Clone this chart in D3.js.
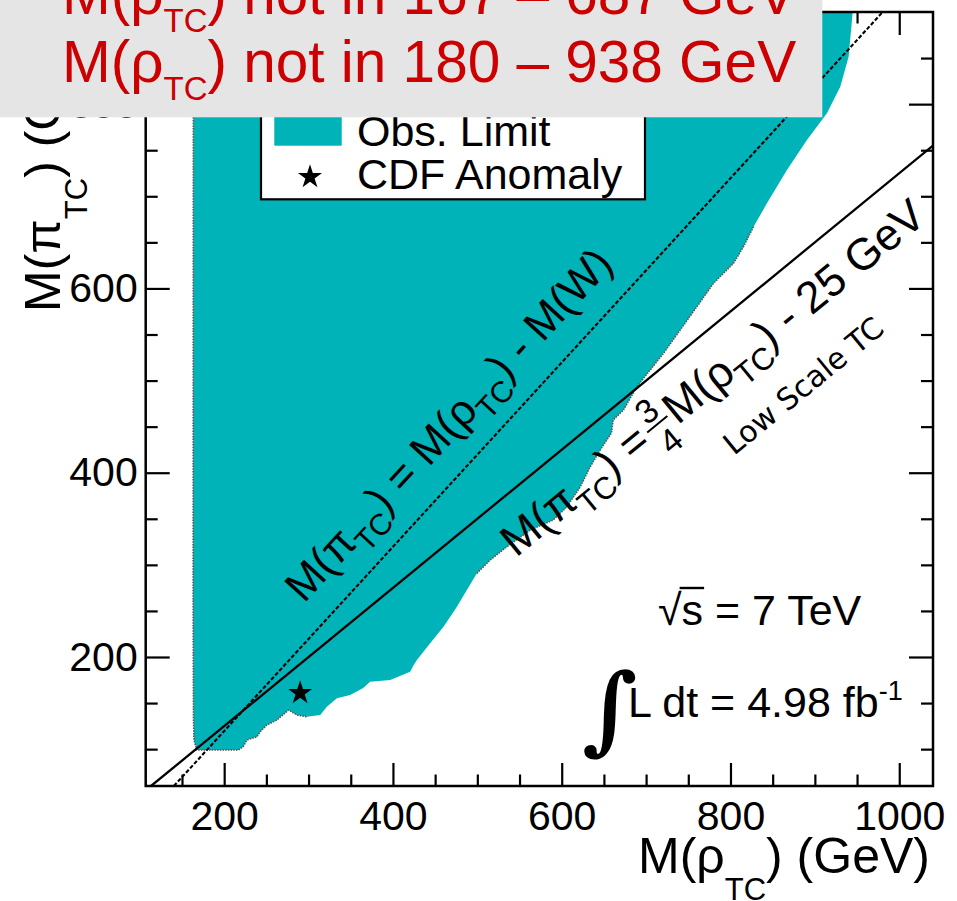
<!DOCTYPE html>
<html>
<head>
<meta charset="utf-8">
<script src="https://cdn.jsdelivr.net/npm/d3@7"></script>
<style>
  body { margin: 0; background: #fff; }
  svg { display: block; }
  text { font-family: "Liberation Sans", Arial, Helvetica, sans-serif; fill: #000; }
</style>
</head>
<body>
<svg id="chart" width="957" height="901"></svg>
<script>
// ---- axis ranges and ticks (GeV) ----
const rhoRange = [107, 1040];
const piRange = [60, 900];
const rhoMajorTicks = [200, 400, 600, 800, 1000];
const piMajorTicks = [200, 400, 600, 800];
const rhoMinorTicks = [150, 250, 300, 350, 450, 500, 550, 650, 700, 750, 850, 900, 950];
const piMinorTicks = [100, 150, 250, 300, 350, 450, 500, 550, 650, 700, 750, 850];

// ---- observed exclusion region in the (M(rho_TC), M(pi_TC)) plane ----
const obsRho = [163.5, 163.2, 163.6, 164.2, 167.6, 216.6, 222.5, 226.9, 238.8, 242.7, 250.6, 262.5, 272.3, 276.2,
  286.2, 298.0, 313.8, 321.7, 333.6, 349.3, 364.7, 373.0, 396.7, 420.4, 424.4, 428.4, 444.1, 459.9, 475.8,
  487.6, 499.5, 515.3, 535.1, 562.7, 589.9, 606.2, 621.9, 633.8, 645.6, 658.9, 661.0, 673.2, 689.1, 704.9,
  720.6, 740.4, 760.2, 779.9, 803.6, 815.4, 827.3, 843.2, 866.9, 890.6, 914.3, 930.1, 940.0, 944.7, 945.0];
const obsPi = [900, 262, 135, 110, 99, 99, 102.7, 109.9, 113.5, 118.9, 126.2, 131.6, 139.2, 142.5,
  137.1, 135.2, 137.1, 146.1, 155.2, 158.8, 166.4, 173.2, 175.0, 184.0, 191.0, 196.7, 214.9, 232.9, 254.6,
  272.7, 290.8, 305.3, 319.7, 337.8, 348.7, 363.1, 384.6, 406.5, 424.7, 443.0, 457.2, 468.1, 493.4, 511.5,
  529.6, 554.9, 580.2, 605.6, 627.3, 645.3, 667.0, 692.4, 728.5, 761.1, 790.1, 819.0, 851.5, 898.6, 900];

// ---- CDF Wjj anomaly point ----
const cdfRho = [290];
const cdfPi = [161];

// ---- reference relations: M(pi) = M(rho) - M(W) and M(pi) = 3/4 M(rho) - 25 GeV ----
const wLineRho = [140.4, 980.4];
const wLinePi = [60, 900];
const lstcLineRho = [113.3, 1040];
const lstcLinePi = [60, 755];

// ---- excluded mass windows quoted in the banner ----
const bannerLow = [167, 180];
const bannerHigh = [687, 938];

const svg = d3.select("#chart");
const W = 957, H = 901;
const margin = { left: 145.7, top: 12, right: 24, bottom: 115 };
const x = d3.scaleLinear().domain(rhoRange).range([margin.left, W - margin.right]);
const y = d3.scaleLinear().domain(piRange).range([H - margin.bottom, margin.top]);
const CYAN = "#00b3b9";

svg.append("defs").append("clipPath").attr("id", "plotArea")
  .append("rect")
  .attr("x", x.range()[0]).attr("y", y.range()[1])
  .attr("width", x.range()[1] - x.range()[0])
  .attr("height", y.range()[0] - y.range()[1]);

const plot = svg.append("g").attr("clip-path", "url(#plotArea)");

const obsPts = obsRho.map((r, i) => [r, obsPi[i]]);
const line = d3.line().x(d => x(d[0])).y(d => y(d[1]));

plot.append("path")
  .datum(obsPts)
  .attr("d", d => line(d) + "Z")
  .attr("fill", CYAN);

// dotted contour where the limit edge is drawn
const idxNotchEnd = obsRho.indexOf(298.0);
const idxRightStart = obsRho.indexOf(499.5);
const idxRightEnd = obsRho.indexOf(827.3);
[obsPts.slice(0, idxNotchEnd + 1), obsPts.slice(idxRightStart, idxRightEnd + 1)].forEach(seg => {
  plot.append("path")
    .datum(seg)
    .attr("d", line)
    .attr("fill", "none")
    .attr("stroke", "#555")
    .attr("stroke-width", 1.6)
    .attr("stroke-dasharray", "1.5 1.2");
});

plot.append("path")
  .datum(wLineRho.map((r, i) => [r, wLinePi[i]]))
  .attr("d", line)
  .attr("fill", "none").attr("stroke", "#000")
  .attr("stroke-width", 2.1).attr("stroke-dasharray", "4 2");

plot.append("path")
  .datum(lstcLineRho.map((r, i) => [r, lstcLinePi[i]]))
  .attr("d", line)
  .attr("fill", "none").attr("stroke", "#000")
  .attr("stroke-width", 2.3);

const star = d3.symbol().type(d3.symbolStar).size(180);
plot.selectAll("path.cdf")
  .data(cdfRho.map((r, i) => [r, cdfPi[i]]))
  .join("path").attr("class", "cdf")
  .attr("d", star)
  .attr("transform", d => `translate(${x(d[0])},${y(d[1])})`)
  .attr("fill", "#000");

// ---- axes: ticks inward on all four sides ----
function styleAxis(g) {
  g.select(".domain").remove();
  g.selectAll(".tick line").attr("stroke", "#000").attr("stroke-width", 2.2);
  g.selectAll(".tick text").attr("font-size", 41).attr("fill", "#000")
    .attr("font-family", '"Liberation Sans", Arial, sans-serif');
}
const xB = H - margin.bottom, xT = margin.top, yL = margin.left, yR = W - margin.right;

svg.append("g").attr("transform", `translate(0,${xB})`)
  .call(d3.axisBottom(x).tickValues(rhoMajorTicks).tickSize(-23).tickPadding(15).tickFormat(d3.format("d")))
  .call(styleAxis);
svg.append("g").attr("transform", `translate(0,${xB})`)
  .call(d3.axisBottom(x).tickValues(rhoMinorTicks).tickSize(-11.5).tickFormat(""))
  .call(styleAxis);
svg.append("g").attr("transform", `translate(0,${xT})`)
  .call(d3.axisTop(x).tickValues(rhoMajorTicks).tickSize(-23).tickFormat(""))
  .call(styleAxis);
svg.append("g").attr("transform", `translate(0,${xT})`)
  .call(d3.axisTop(x).tickValues(rhoMinorTicks).tickSize(-11.5).tickFormat(""))
  .call(styleAxis);

svg.append("g").attr("transform", `translate(${yL},0)`)
  .call(d3.axisLeft(y).tickValues(piMajorTicks).tickSize(-24).tickPadding(8).tickFormat(d3.format("d")))
  .call(styleAxis);
svg.append("g").attr("transform", `translate(${yL},0)`)
  .call(d3.axisLeft(y).tickValues(piMinorTicks).tickSize(-12).tickFormat(""))
  .call(styleAxis);
svg.append("g").attr("transform", `translate(${yR},0)`)
  .call(d3.axisRight(y).tickValues(piMajorTicks).tickSize(-24).tickFormat(""))
  .call(styleAxis);
svg.append("g").attr("transform", `translate(${yR},0)`)
  .call(d3.axisRight(y).tickValues(piMinorTicks).tickSize(-12).tickFormat(""))
  .call(styleAxis);

svg.append("rect")
  .attr("x", yL).attr("y", xT)
  .attr("width", yR - yL).attr("height", xB - xT)
  .attr("fill", "none").attr("stroke", "#000").attr("stroke-width", 2.5);

// ---- helper: text with a subscript ----
function subText(g, parts, size, subSize, subShift) {
  const t = g.append("text").attr("font-size", size);
  parts.forEach(p => {
    if (p.sub) {
      t.append("tspan").attr("font-size", subSize).attr("dy", subShift).text(p.sub);
      t.append("tspan").attr("dy", -subShift).text("\u200B");
    } else {
      t.append("tspan").text(p.t);
    }
  });
  return t;
}

// axis titles
subText(svg.append("g").attr("transform", "translate(638,873)"),
  [{ t: "M(ρ" }, { sub: "TC" }, { t: ") (GeV)" }], 50, 31, 27);
subText(svg.append("g").attr("transform", "translate(60,312) rotate(-90)"),
  [{ t: "M(π" }, { sub: "TC" }, { t: ") (GeV)" }], 50, 31, 27);

// ---- line annotations, parallel to the drawn lines ----
function lineAngle(rs, ps) {
  return Math.atan2(y(ps[1]) - y(ps[0]), x(rs[1]) - x(rs[0])) * 180 / Math.PI;
}
const wAngle = lineAngle(wLineRho, wLinePi);
const lstcAngle = lineAngle(lstcLineRho, lstcLinePi);

subText(svg.append("g").attr("transform", `translate(304,604) rotate(${wAngle})`),
  [{ t: "M(π" }, { sub: "TC" }, { t: ") = M(ρ" }, { sub: "TC" }, { t: ") - M(W)" }], 43.5, 30, 13);

const lg = svg.append("g").attr("transform", `translate(516,558) rotate(${lstcAngle})`);
const l1 = subText(lg, [{ t: "M(π" }, { sub: "TC" }, { t: ") =" }], 44.5, 31, 13);
const w1 = l1.node().getComputedTextLength();
const fx = w1 + 4;
lg.append("text").attr("x", fx + 13).attr("y", -19).attr("font-size", 34).attr("text-anchor", "middle").text("3");
lg.append("line").attr("x1", fx).attr("x2", fx + 26).attr("y1", -14).attr("y2", -14)
  .attr("stroke", "#000").attr("stroke-width", 2);
lg.append("text").attr("x", fx + 13).attr("y", 19).attr("font-size", 34).attr("text-anchor", "middle").text("4");
subText(lg.append("g").attr("transform", `translate(${fx + 28},0)`),
  [{ t: "M(ρ" }, { sub: "TC" }, { t: ") - 25 GeV" }], 44.5, 31, 13);

svg.append("text")
  .attr("transform", `translate(734,456) rotate(${lstcAngle})`)
  .attr("font-size", 30)
  .style("font-family", '"DejaVu Sans", sans-serif')
  .text("Low Scale TC");

// ---- energy and luminosity ----
const sq = svg.append("text").attr("x", 658).attr("y", 625).attr("font-size", 43);
sq.append("tspan").text("√");
sq.append("tspan").text("s = 7 TeV");
{
  const n = sq.node();
  const a = n.getSubStringLength(0, 1);
  const b = n.getSubStringLength(1, 1);
  svg.append("line").attr("x1", 658 + a - 2).attr("x2", 658 + a + b + 1)
    .attr("y1", 588).attr("y2", 588).attr("stroke", "#000").attr("stroke-width", 2.4);
}
svg.append("text").attr("x", 582).attr("y", 742).attr("font-size", 96)
  .style("font-family", '"DejaVu Serif", serif').style("font-style", "italic").style("font-weight", "bold")
  .text("∫");
const lum = svg.append("text").attr("x", 628).attr("y", 717).attr("font-size", 43);
lum.append("tspan").text("L dt = 4.98 fb");
lum.append("tspan").attr("font-size", 27).attr("dy", -17).text("-1");

// ---- legend (upper part sits under the banner) ----
const leg = svg.append("g");
leg.append("rect").attr("x", 261).attr("y", 20).attr("width", 384).attr("height", 179.3)
  .attr("fill", "#fff").attr("stroke", "#000").attr("stroke-width", 2.2);
leg.append("rect").attr("x", 274.3).attr("y", 114).attr("width", 67.4).attr("height", 31.7)
  .attr("fill", CYAN);
leg.append("text").attr("x", 357).attr("y", 146).attr("font-size", 43).text("Obs. Limit");
leg.append("path").attr("d", star).attr("transform", "translate(310,177)").attr("fill", "#000");
leg.append("text").attr("x", 357).attr("y", 189).attr("font-size", 43).text("CDF Anomaly");

// ---- banner with excluded M(rho_TC) windows ----
const banner = svg.append("g");
banner.append("rect").attr("x", 0).attr("y", 0).attr("width", 822.3).attr("height", 117.3).attr("fill", "#e5e5e5");
bannerLow.forEach((lo, i) => {
  const t = subText(banner.append("g").attr("transform", `translate(62,${13.5 + 68.2 * i})`),
    [{ t: "M(ρ" }, { sub: "TC" }, { t: `) not in ${lo} – ${bannerHigh[i]} GeV` }], 58.5, 33, 18);
  t.style("fill", "#cc0000");
});
</script>
</body>
</html>
